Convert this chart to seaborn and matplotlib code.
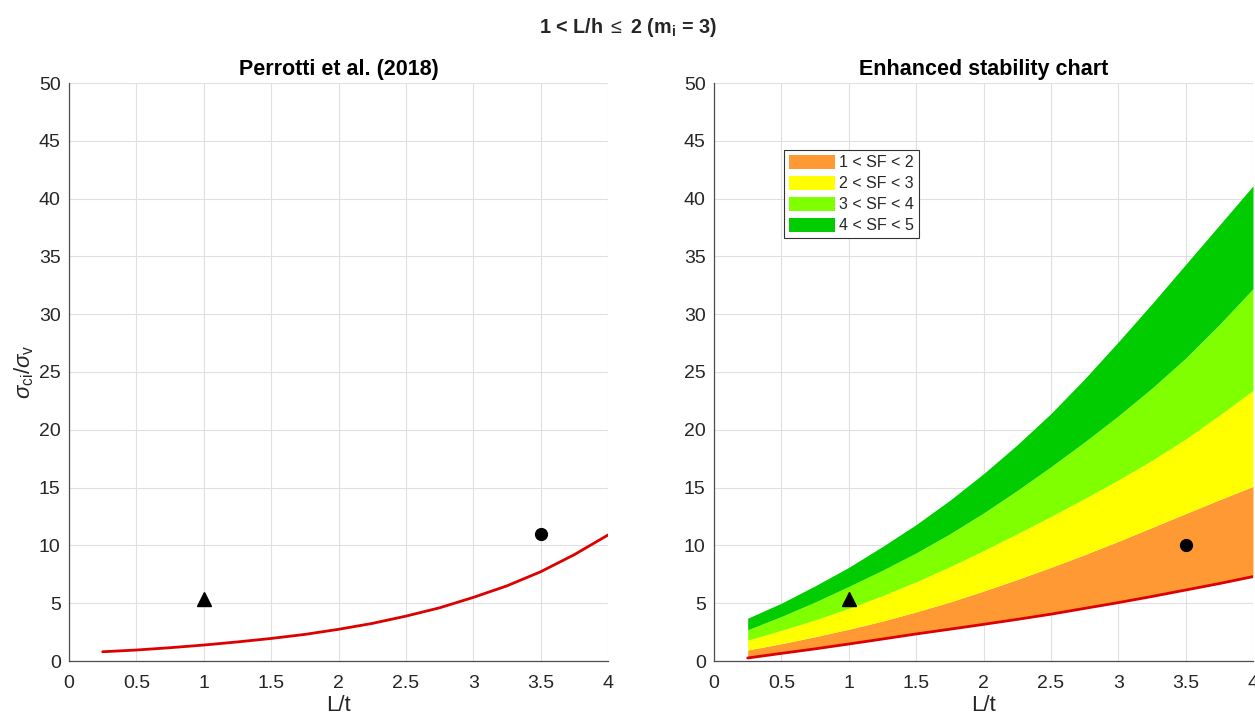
import matplotlib
matplotlib.use("Agg")
import matplotlib.pyplot as plt
import seaborn as sns
import pandas as pd
from matplotlib.patches import Patch

# ---------------- data ----------------
L_t = [0.25, 0.5, 0.75, 1.0, 1.25, 1.5, 1.75, 2.0, 2.25, 2.5, 2.75, 3.0, 3.25, 3.5, 3.75, 4.0]

# Left panel: Perrotti et al. (2018) limit curve
perrotti = [0.8, 0.95, 1.15, 1.38, 1.65, 1.95, 2.3, 2.74, 3.25, 3.88, 4.6, 5.5, 6.5, 7.72, 9.2, 10.9]

# Right panel: SF = 1 curve and band tops
sf1 = [0.26, 0.66, 1.05, 1.47, 1.9, 2.34, 2.75, 3.17, 3.6, 4.05, 4.55, 5.05, 5.58, 6.14, 6.7, 7.3]
sf2 = [0.95, 1.5, 2.1, 2.75, 3.45, 4.25, 5.1, 6.05, 7.05, 8.1, 9.2, 10.35, 11.55, 12.75, 13.95, 15.1]
sf3 = [1.8, 2.65, 3.55, 4.55, 5.65, 6.85, 8.15, 9.55, 11.0, 12.5, 14.05, 15.65, 17.35, 19.2, 21.25, 23.4]
sf4 = [2.7, 3.85, 5.1, 6.45, 7.85, 9.35, 11.0, 12.8, 14.75, 16.8, 18.95, 21.2, 23.6, 26.2, 29.1, 32.2]
sf5 = [3.7, 5.0, 6.5, 8.1, 9.9, 11.8, 13.9, 16.2, 18.7, 21.4, 24.4, 27.6, 30.9, 34.3, 37.7, 41.1]

band_labels = ["1 < SF < 2", "2 < SF < 3", "3 < SF < 4", "4 < SF < 5"]
band_colors = ["#FF9933", "#FFFF00", "#80FF00", "#00CC00"]

# case points
left_tri = (1.0, 5.4)
left_circ = (3.5, 11.0)
right_tri = (1.0, 5.4)
right_circ = (3.5, 10.0)

xtick_vals = [0, 0.5, 1, 1.5, 2, 2.5, 3, 3.5, 4]
xtick_labels = ["0", "0.5", "1", "1.5", "2", "2.5", "3", "3.5", "4"]
ytick_vals = [0, 5, 10, 15, 20, 25, 30, 35, 40, 45, 50]

# ---------------- style ----------------
sns.set_style("white")
plt.rcParams["font.family"] = ["Liberation Sans", "DejaVu Sans"]
plt.rcParams["mathtext.fontset"] = "custom"
plt.rcParams["mathtext.rm"] = "Liberation Sans"
plt.rcParams["mathtext.it"] = "Liberation Sans:italic"
plt.rcParams["mathtext.bf"] = "Liberation Sans:bold"

fig = plt.figure(figsize=(12.55, 7.17), dpi=100)
axL = fig.add_axes([69 / 1255, 56 / 717, 539 / 1255, 578 / 717])
axR = fig.add_axes([714 / 1255, 56 / 717, 539 / 1255, 578 / 717])

df = pd.DataFrame({"L_t": L_t, "perrotti": perrotti, "sf1": sf1})

ax_col = "#4D4D4D"
txt_col = "#262626"


def style_axes(ax, title):
    ax.set_xlim(0, 4)
    ax.set_ylim(0, 50)
    ax.set_xticks(xtick_vals)
    ax.set_xticklabels(xtick_labels)
    ax.set_yticks(ytick_vals)
    ax.grid(True, color="#E0E0E0", linewidth=0.8)
    ax.set_axisbelow(True)
    for s in ["top", "right"]:
        ax.spines[s].set_visible(False)
    for s in ["left", "bottom"]:
        ax.spines[s].set_color(ax_col)
        ax.spines[s].set_linewidth(0.9)
    ax.tick_params(direction="in", length=4, width=0.8, colors=ax_col,
                   labelcolor=txt_col, labelsize=14)
    ax.tick_params(axis="x", pad=10)
    ax.tick_params(axis="y", pad=6)
    ax.set_xlabel("L/t", fontsize=16, color=txt_col, labelpad=2)
    ax.set_title(title, fontsize=15.5, fontweight="bold", color="black", pad=6)


# Left panel
sns.lineplot(data=df, x="L_t", y="perrotti", ax=axL, color="#DD0000", linewidth=2.0)
axL.plot(*left_tri, marker="^", color="black", markersize=10, linestyle="none")
axL.plot(*left_circ, marker="o", color="black", markersize=8.5, linestyle="none")
style_axes(axL, "Perrotti et al. (2018)")
axL.set_ylabel(r"$\sigma_{\mathrm{ci}}/\sigma_{\mathrm{v}}$", fontsize=16, color=txt_col, labelpad=2)

# Right panel
bounds = [sf1, sf2, sf3, sf4, sf5]
for i in range(4):
    axR.fill_between(L_t, bounds[i], bounds[i + 1], color=band_colors[i], linewidth=0, zorder=1)
sns.lineplot(data=df, x="L_t", y="sf1", ax=axR, color="#DD0000", linewidth=2.0, zorder=3)
axR.plot(*right_tri, marker="^", color="black", markersize=10, linestyle="none", zorder=4)
axR.plot(*right_circ, marker="o", color="black", markersize=8.5, linestyle="none", zorder=4)
style_axes(axR, "Enhanced stability chart")
axR.set_ylabel("")

handles = [Patch(facecolor=c, edgecolor="none", label=l) for c, l in zip(band_colors, band_labels)]
leg = axR.legend(handles=handles, loc="upper left", bbox_to_anchor=(0.13, 0.884),
                 fontsize=11.5, frameon=True, fancybox=False, framealpha=1,
                 edgecolor="#333333", borderpad=0.3, labelspacing=0.35,
                 handlelength=2.9, handleheight=0.95, handletextpad=0.25, borderaxespad=0)
leg.get_frame().set_linewidth(0.8)

fig.suptitle(r"1 < L/h $\leq$ 2 (m$_{\mathbf{i}}$ = 3)", fontsize=14.2, fontweight="bold", y=0.977)

fig.savefig("out.png", dpi=100)
